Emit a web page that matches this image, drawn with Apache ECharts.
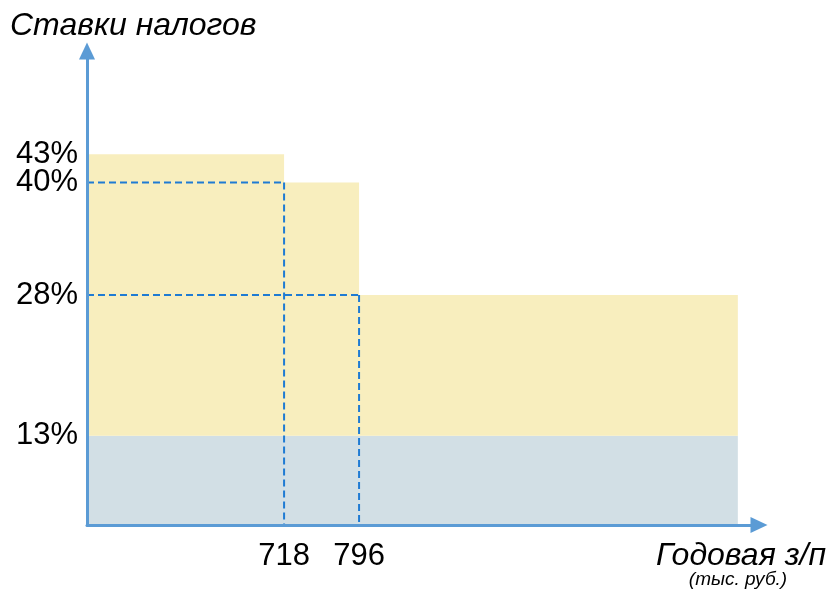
<!DOCTYPE html>
<html>
<head>
<meta charset="utf-8">
<title>Ставки налогов</title>
<script src="https://cdn.jsdelivr.net/npm/echarts@6/dist/echarts.min.js"></script>
<style>
  html, body { margin: 0; padding: 0; background: #fff; }
  #chart { width: 830px; height: 593px; }
</style>
</head>
<body>
<div id="chart"></div>
<script>
// границы шкалы, тыс. руб.
const bracketFrom = [0, 718, 796];
const bracketTo = [718, 796, 1190];
// суммарная ставка в каждом интервале, %
const topRates = [43, 40, 28];
// НДФЛ, нижняя полоса
const baseRate = 13;
// подписи осей
const rateTicks = [13, 28, 40, 43];
const incomeTicks = [718, 796];

const FONT = '"Liberation Sans", Arial, sans-serif';
const AXIS_COLOR = '#5B9BD5';
const Y_MIN = 3.5, Y_MAX = 54;

const chart = echarts.init(document.getElementById('chart'));

const blocks = bracketFrom.map((from, i) => [from, bracketTo[i], topRates[i]]);
// пунктир только для ступенек после первой
const guides = blocks.slice(1);

function renderBlock(params, api) {
  const x0 = api.value(0), x1 = api.value(1), top = api.value(2);
  const pLow = api.coord([x0, 0]);
  const pBase = api.coord([x1, baseRate]);
  const pTop = api.coord([x1, top]);
  const w = pBase[0] - pLow[0];
  return {
    type: 'group',
    children: [
      {
        type: 'rect',
        shape: { x: pLow[0], y: pBase[1], width: w, height: pLow[1] - pBase[1] },
        style: { fill: '#D2DFE5' }
      },
      {
        type: 'rect',
        shape: { x: pLow[0], y: pTop[1], width: w, height: pBase[1] - pTop[1] },
        style: { fill: '#F8EEBE' }
      }
    ]
  };
}

function renderGuide(params, api) {
  const p = api.coord([api.value(0), api.value(2)]);
  const cs = params.coordSys;
  const dash = { stroke: '#1F7BD3', lineWidth: 2, lineDash: [7, 4] };
  return {
    type: 'group',
    children: [
      { type: 'line', shape: { x1: cs.x, y1: p[1], x2: p[0], y2: p[1] }, style: dash },
      { type: 'line', shape: { x1: p[0], y1: p[1], x2: p[0], y2: cs.y + cs.height }, style: dash }
    ]
  };
}

const axisLine = {
  show: true,
  onZero: false,
  symbol: ['none', 'triangle'],
  symbolSize: [16, 17],
  lineStyle: { color: AXIS_COLOR, width: 3 }
};

function rateLabel(values) {
  return {
    customValues: values,
    hideOverlap: false,
    formatter: '{value}%',
    color: '#000',
    fontSize: 31,
    fontFamily: FONT,
    margin: 9
  };
}

// подписи 40% и 43% стоят близко - разносим их по двум осям, чтобы не скрывались
const ratesA = rateTicks.filter((v, i) => i % 2 === 0);
const ratesB = rateTicks.filter((v, i) => i % 2 === 1);

chart.setOption({
  animation: false,
  grid: { left: 87, right: 71, top: 51, bottom: 68 },
  xAxis: {
    type: 'value',
    min: 513,
    max: 1212,
    z: 10,
    axisLine: axisLine,
    axisTick: { show: false },
    splitLine: { show: false },
    axisLabel: {
      customValues: incomeTicks,
      hideOverlap: false,
      color: '#000',
      fontSize: 31,
      fontFamily: FONT,
      margin: 16
    }
  },
  yAxis: [
    {
      type: 'value',
      min: Y_MIN,
      max: Y_MAX,
      z: 10,
      axisLine: axisLine,
      axisTick: { show: false },
      splitLine: { show: false },
      axisLabel: rateLabel(ratesA)
    },
    {
      type: 'value',
      position: 'left',
      offset: 0,
      min: Y_MIN,
      max: Y_MAX,
      axisLine: { show: false },
      axisTick: { show: false },
      splitLine: { show: false },
      axisLabel: rateLabel(ratesB)
    }
  ],
  graphic: [
    {
      type: 'text', x: 10, y: 26,
      style: { text: 'Ставки налогов', font: 'italic 32px ' + FONT, fill: '#000', verticalAlign: 'middle' }
    },
    {
      type: 'text', x: 741, y: 556,
      style: { text: 'Годовая з/п', font: 'italic 32px ' + FONT, fill: '#000', align: 'center', verticalAlign: 'middle' }
    },
    {
      type: 'text', x: 738, y: 580,
      style: { text: '(тыс. руб.)', font: 'italic 19px ' + FONT, fill: '#000', align: 'center', verticalAlign: 'middle' }
    }
  ],
  series: [
    {
      type: 'custom',
      clip: true,
      renderItem: renderBlock,
      data: blocks,
      z: 1
    },
    {
      type: 'custom',
      clip: true,
      renderItem: renderGuide,
      data: guides,
      z: 2
    }
  ]
});
</script>
</body>
</html>
